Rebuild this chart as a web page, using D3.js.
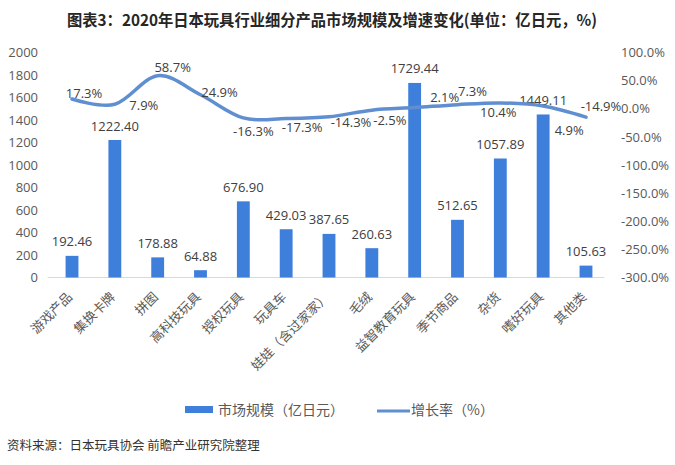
<!DOCTYPE html>
<html><head><meta charset="utf-8">
<script src="https://cdn.jsdelivr.net/npm/d3@7/dist/d3.min.js"></script>
<style>
body{margin:0;background:#fff;}
svg{display:block;font-family:"Open Sans","Noto Sans CJK SC",sans-serif;}
</style></head>
<body><svg id="c" width="675" height="465"></svg>
<script>
const categories = ["游戏产品","集换卡牌","拼图","高科技玩具","授权玩具","玩具车","娃娃（含过家家）","毛绒","益智教育玩具","季节商品","杂货","嗜好玩具","其他类"];
const marketSize = [192.46,1222.40,178.88,64.88,676.90,429.03,387.65,260.63,1729.44,512.65,1057.89,1449.11,105.63];
const growthRate = [17.3,7.9,58.7,24.9,-16.3,-17.3,-14.3,-2.5,2.1,7.3,10.4,4.9,-14.9];
const leftTicks = [0,200,400,600,800,1000,1200,1400,1600,1800,2000];
const rightTicks = [100,50,0,-50,-100,-150,-200,-250,-300];
const title = "图表3：2020年日本玩具行业细分产品市场规模及增速变化(单位：亿日元，%)";
const legendLabels = ["市场规模（亿日元）","增长率（%）"];
const source = "资料来源：日本玩具协会 前瞻产业研究院整理";

// label offsets (layout) for growth labels
const rateLabelOffsets = [[12,-6],[29,1],[15,-8],[19,-2],[10,14],[16,9],[22,6],[18,10],[30,-10],[15,-13],[-2,10],[26,24],[15,-11]];

const barColor = "#3e7fdb", lineColor = "#5f8fd1", textColor = "#595959";
const svg = d3.select("#c");
const plotTop = 52.5, plotBottom = 277.5;
const x = d3.scaleBand().domain(categories).range([50.6,607.4]).paddingInner(0.7).paddingOuter(0.35);
const yL = d3.scaleLinear().domain([0,2000]).range([plotBottom, plotTop]);
const yR = d3.scaleLinear().domain([-300,100]).range([plotBottom, plotTop]);

// title
svg.append("text").attr("x",332).attr("y",20).attr("dy","0.35em").attr("text-anchor","middle")
  .attr("font-family","'Noto Sans CJK SC',sans-serif").attr("font-weight","bold").attr("font-size",16)
  .attr("fill","#262626").attr("textLength",530).attr("lengthAdjust","spacingAndGlyphs").text(title);

// left axis
const gl = svg.append("g").attr("transform","translate(38,0)")
  .call(d3.axisLeft(yL).tickValues(leftTicks).tickSize(0).tickPadding(0).tickFormat(d3.format("d")));
gl.select(".domain").remove();
gl.selectAll("text").attr("font-size",13).attr("fill",textColor).attr("font-family","'Open Sans',sans-serif");

// right axis
const gr = svg.append("g").attr("transform","translate(621,0)")
  .call(d3.axisRight(yR).tickValues(rightTicks).tickSize(0).tickPadding(0).tickFormat(d=>d.toFixed(1)+"%"));
gr.select(".domain").remove();
gr.selectAll("text").attr("font-size",13).attr("fill",textColor).attr("font-family","'Open Sans',sans-serif");

// bottom axis line
svg.append("line").attr("x1",x.range()[0]-3).attr("x2",x.range()[1]-3).attr("y1",plotBottom).attr("y2",plotBottom)
  .attr("stroke","#d9d9d9").attr("stroke-width",1);

// bars
svg.append("g").selectAll("rect").data(categories).join("rect")
  .attr("x",d=>x(d)).attr("width",x.bandwidth())
  .attr("y",(d,i)=>yL(marketSize[i])).attr("height",(d,i)=>plotBottom-yL(marketSize[i]))
  .attr("fill",barColor);

// bar labels
svg.append("g").selectAll("text").data(categories).join("text")
  .attr("x",d=>x(d)+x.bandwidth()/2).attr("y",(d,i)=>yL(marketSize[i])-14).attr("dy","0.35em")
  .attr("text-anchor","middle").attr("font-size",13).attr("fill","#404040")
  .text((d,i)=>marketSize[i].toFixed(2));

// line
const line = d3.line().x((d,i)=>x(categories[i])+x.bandwidth()/2).y(d=>yR(d)).curve(d3.curveCatmullRom.alpha(0));
svg.append("path").datum(growthRate).attr("d",line).attr("fill","none")
  .attr("stroke",lineColor).attr("stroke-width",3.5).attr("stroke-linecap","round");

// line labels
svg.append("g").selectAll("text").data(growthRate).join("text")
  .attr("x",(d,i)=>x(categories[i])+x.bandwidth()/2+rateLabelOffsets[i][0])
  .attr("y",(d,i)=>yR(d)+rateLabelOffsets[i][1]).attr("dy","0.35em")
  .attr("text-anchor","middle").attr("font-size",13).attr("fill","#404040")
  .text(d=>d.toFixed(1)+"%");

// x labels
svg.append("g").selectAll("text").data(categories).join("text")
  .attr("transform",d=>`translate(${x(d)+x.bandwidth()/2-2},${plotBottom+17}) rotate(-45)`)
  .attr("dy","0.35em").attr("text-anchor","end").attr("font-size",13)
  .attr("font-family","'Noto Sans CJK SC',sans-serif").attr("fill",textColor).text(d=>d);

// legend
const lg = svg.append("g");
lg.append("rect").attr("x",185).attr("y",406).attr("width",28).attr("height",7).attr("fill",barColor);
lg.append("text").attr("x",218).attr("y",410).attr("dy","0.35em").attr("font-size",14)
  .attr("font-family","'Noto Sans CJK SC',sans-serif").attr("fill",textColor).text(legendLabels[0]);
lg.append("line").attr("x1",377).attr("x2",410).attr("y1",411).attr("y2",411).attr("stroke",lineColor).attr("stroke-width",3);
lg.append("text").attr("x",411).attr("y",410).attr("dy","0.35em").attr("font-size",14)
  .attr("font-family","'Noto Sans CJK SC',sans-serif").attr("fill",textColor).text(legendLabels[1]);

// source
svg.append("text").attr("x",7).attr("y",446).attr("dy","0.35em").attr("font-size",12.5)
  .attr("font-family","'Noto Sans CJK SC',sans-serif").attr("fill","#333").text(source);
</script></body></html>
